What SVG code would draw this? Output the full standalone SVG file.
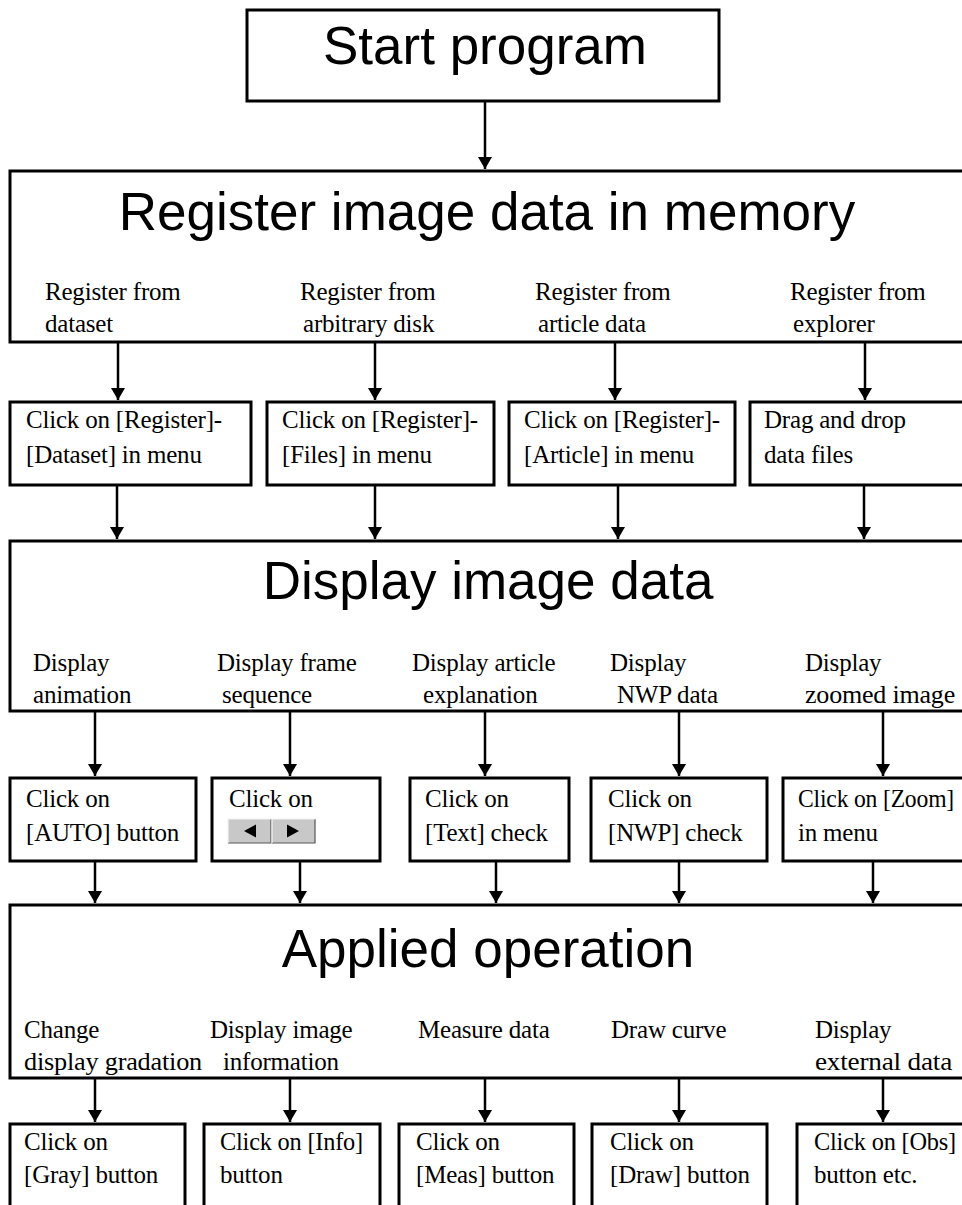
<svg xmlns="http://www.w3.org/2000/svg" width="962" height="1205" viewBox="0 0 962 1205">
<style>
.box{fill:#fff;stroke:#000;stroke-width:3}
.title{font-family:"Liberation Sans",Arial,sans-serif;font-size:53px;fill:#000;text-anchor:middle}
.lbl{font-family:"Liberation Serif","Times New Roman",serif;font-size:25px;fill:#000;letter-spacing:-0.2px}
.con line{stroke:#000;stroke-width:2.5}
</style>
<defs>
<marker id="ah" viewBox="0 0 12 14" refX="12" refY="7" markerWidth="12" markerHeight="14" markerUnits="userSpaceOnUse" orient="auto">
<path d="M0,0 L12,7 L0,14 z" fill="#000"/>
</marker>
</defs>
<rect width="962" height="1205" fill="#fff"/>

<g id="start">
<rect class="box" x="247" y="10" width="472" height="91" stroke-width="2.5"/>
<text class="title" x="485" y="64">Start program</text>
</g>

<g id="register">
<rect class="box" x="10" y="171" width="970" height="171"/>
<text class="title" x="487" y="230">Register image data in memory</text>
<text class="lbl" x="45" y="300">Register from</text>
<text class="lbl" x="45" y="332">dataset</text>
<text class="lbl" x="300" y="300">Register from</text>
<text class="lbl" x="303" y="332">arbitrary disk</text>
<text class="lbl" x="535" y="300">Register from</text>
<text class="lbl" x="538" y="332">article data</text>
<text class="lbl" x="790" y="300">Register from</text>
<text class="lbl" x="793" y="332">explorer</text>
</g>

<g id="reg-dataset">
<rect class="box" x="10" y="402" width="241" height="83"/>
<text class="lbl" x="26" y="428">Click on [Register]-</text>
<text class="lbl" x="26" y="463">[Dataset] in menu</text>
</g>
<g id="reg-files">
<rect class="box" x="267" y="402" width="227" height="83"/>
<text class="lbl" x="282" y="428">Click on [Register]-</text>
<text class="lbl" x="282" y="463">[Files] in menu</text>
</g>
<g id="reg-article">
<rect class="box" x="509" y="402" width="226" height="83"/>
<text class="lbl" x="524" y="428">Click on [Register]-</text>
<text class="lbl" x="524" y="463">[Article] in menu</text>
</g>
<g id="reg-drag">
<rect class="box" x="750" y="402" width="230" height="83"/>
<text class="lbl" x="764" y="428">Drag and drop</text>
<text class="lbl" x="764" y="463">data files</text>
</g>

<g id="display">
<rect class="box" x="10" y="541" width="970" height="170"/>
<text class="title" x="488" y="599">Display image data</text>
<text class="lbl" x="33" y="671">Display</text>
<text class="lbl" x="33" y="703">animation</text>
<text class="lbl" x="217" y="671">Display frame</text>
<text class="lbl" x="222" y="703">sequence</text>
<text class="lbl" x="412" y="671">Display article</text>
<text class="lbl" x="423" y="703">explanation</text>
<text class="lbl" x="610" y="671">Display</text>
<text class="lbl" x="617" y="703">NWP data</text>
<text class="lbl" x="805" y="671">Display</text>
<text class="lbl" x="805" y="703" textLength="150" lengthAdjust="spacingAndGlyphs">zoomed image</text>
</g>

<g id="disp-auto">
<rect class="box" x="10" y="778" width="186" height="83"/>
<text class="lbl" x="26" y="807">Click on</text>
<text class="lbl" x="26" y="841">[AUTO] button</text>
</g>
<g id="disp-frame">
<rect class="box" x="212" y="778" width="168" height="83"/>
<text class="lbl" x="229" y="807">Click on</text>
<g id="frame-buttons">
<rect x="228" y="819" width="43" height="24" fill="#c8c8c8"/>
<rect x="272" y="819" width="43" height="24" fill="#c8c8c8"/>
<path d="M228,843 H271 V819 M272,843 H315 V819" fill="none" stroke="#555" stroke-width="1.2"/>
<path d="M228,843 V819 H271 M272,843 V819 H315" fill="none" stroke="#f4f4f4" stroke-width="1.2"/>
<path d="M244,831 L256,824.5 L256,837.5 z" fill="#000"/>
<path d="M299,831 L287,824.5 L287,837.5 z" fill="#000"/>
</g>
</g>
<g id="disp-text">
<rect class="box" x="410" y="778" width="159" height="83"/>
<text class="lbl" x="425" y="807">Click on</text>
<text class="lbl" x="425" y="841">[Text] check</text>
</g>
<g id="disp-nwp">
<rect class="box" x="591" y="778" width="176" height="83"/>
<text class="lbl" x="608" y="807">Click on</text>
<text class="lbl" x="608" y="841">[NWP] check</text>
</g>
<g id="disp-zoom">
<rect class="box" x="783" y="778" width="197" height="83"/>
<text class="lbl" x="798" y="807" textLength="156" lengthAdjust="spacingAndGlyphs">Click on [Zoom]</text>
<text class="lbl" x="798" y="841">in menu</text>
</g>

<g id="applied">
<rect class="box" x="10" y="905" width="970" height="173"/>
<text class="title" x="488" y="967">Applied operation</text>
<text class="lbl" x="24" y="1038">Change</text>
<text class="lbl" x="24" y="1070" textLength="178" lengthAdjust="spacingAndGlyphs">display gradation</text>
<text class="lbl" x="210" y="1038">Display image</text>
<text class="lbl" x="223" y="1070">information</text>
<text class="lbl" x="418" y="1038">Measure data</text>
<text class="lbl" x="611" y="1038">Draw curve</text>
<text class="lbl" x="815" y="1038">Display</text>
<text class="lbl" x="815" y="1070" textLength="137" lengthAdjust="spacingAndGlyphs">external data</text>
</g>

<g id="app-gray">
<rect class="box" x="10" y="1124" width="175" height="100"/>
<text class="lbl" x="24" y="1150">Click on</text>
<text class="lbl" x="24" y="1183">[Gray] button</text>
</g>
<g id="app-info">
<rect class="box" x="204" y="1124" width="176" height="100"/>
<text class="lbl" x="220" y="1150" textLength="143" lengthAdjust="spacingAndGlyphs">Click on [Info]</text>
<text class="lbl" x="220" y="1183">button</text>
</g>
<g id="app-meas">
<rect class="box" x="399" y="1124" width="175" height="100"/>
<text class="lbl" x="416" y="1150">Click on</text>
<text class="lbl" x="416" y="1183">[Meas] button</text>
</g>
<g id="app-draw">
<rect class="box" x="592" y="1124" width="175" height="100"/>
<text class="lbl" x="610" y="1150">Click on</text>
<text class="lbl" x="610" y="1183">[Draw] button</text>
</g>
<g id="app-obs">
<rect class="box" x="797" y="1124" width="183" height="100"/>
<text class="lbl" x="814" y="1150" textLength="142" lengthAdjust="spacingAndGlyphs">Click on [Obs]</text>
<text class="lbl" x="814" y="1183">button etc.</text>
</g>

<g id="connectors" class="con">
<line x1="485" y1="101" x2="485" y2="169" marker-end="url(#ah)"/>
<line x1="118" y1="342" x2="118" y2="400" marker-end="url(#ah)"/>
<line x1="375" y1="342" x2="375" y2="400" marker-end="url(#ah)"/>
<line x1="615" y1="342" x2="615" y2="400" marker-end="url(#ah)"/>
<line x1="865" y1="342" x2="865" y2="400" marker-end="url(#ah)"/>
<line x1="117" y1="485" x2="117" y2="539" marker-end="url(#ah)"/>
<line x1="375" y1="485" x2="375" y2="539" marker-end="url(#ah)"/>
<line x1="618" y1="485" x2="618" y2="539" marker-end="url(#ah)"/>
<line x1="864" y1="485" x2="864" y2="539" marker-end="url(#ah)"/>
<line x1="95" y1="711" x2="95" y2="776" marker-end="url(#ah)"/>
<line x1="290" y1="711" x2="290" y2="776" marker-end="url(#ah)"/>
<line x1="485" y1="711" x2="485" y2="776" marker-end="url(#ah)"/>
<line x1="679" y1="711" x2="679" y2="776" marker-end="url(#ah)"/>
<line x1="883" y1="711" x2="883" y2="776" marker-end="url(#ah)"/>
<line x1="95" y1="861" x2="95" y2="903" marker-end="url(#ah)"/>
<line x1="300" y1="861" x2="300" y2="903" marker-end="url(#ah)"/>
<line x1="496" y1="861" x2="496" y2="903" marker-end="url(#ah)"/>
<line x1="679" y1="861" x2="679" y2="903" marker-end="url(#ah)"/>
<line x1="873" y1="861" x2="873" y2="903" marker-end="url(#ah)"/>
<line x1="95" y1="1078" x2="95" y2="1122" marker-end="url(#ah)"/>
<line x1="290" y1="1078" x2="290" y2="1122" marker-end="url(#ah)"/>
<line x1="485" y1="1078" x2="485" y2="1122" marker-end="url(#ah)"/>
<line x1="679" y1="1078" x2="679" y2="1122" marker-end="url(#ah)"/>
<line x1="883" y1="1078" x2="883" y2="1122" marker-end="url(#ah)"/>
</g>
</svg>
